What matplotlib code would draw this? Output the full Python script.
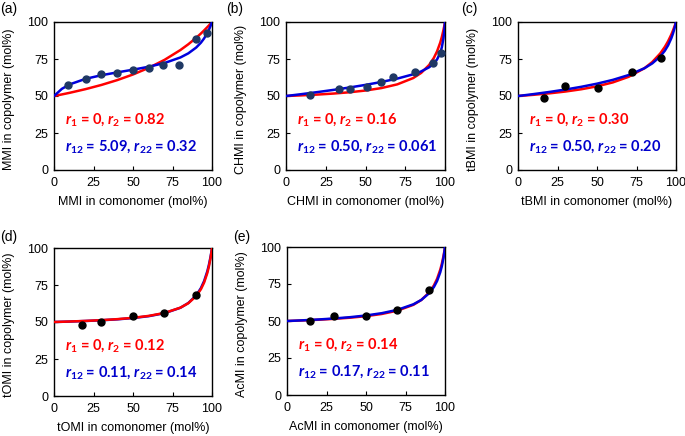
import matplotlib
matplotlib.use('Agg')
import matplotlib.pyplot as plt

plt.rcParams['font.family'] = ['Liberation Sans', 'DejaVu Sans']
plt.rcParams['mathtext.fontset'] = 'custom'
plt.rcParams['mathtext.it'] = 'Lato:italic:bold'
plt.rcParams['mathtext.bf'] = 'Lato:bold'
plt.rcParams['mathtext.rm'] = 'Lato:bold'

# ---- shared x grid for model curves (maleimide in comonomer, mol%) ----
feed = [0, 5, 10, 20, 30, 40, 50, 60, 70, 80, 85, 90, 93, 95, 97, 98, 99, 99.5, 100]

# ---- (a) MMI ----
mmi_terminal = [50, 51.06, 52.18, 54.65, 57.47, 60.73, 64.54, 69.04, 74.45, 81.06, 84.95,
                89.34, 92.24, 94.31, 96.49, 97.63, 98.80, 99.39, 100]
mmi_penult = [50, 54.85, 57.88, 61.61, 64.03, 65.95, 67.78, 69.78, 72.31, 76.04, 78.81,
              82.75, 86.06, 88.90, 92.47, 94.63, 97.11, 98.50, 100]
mmi_x = [9, 20, 30, 40, 50, 60, 69, 79, 90, 97]
mmi_y = [57.2, 61.5, 65.1, 65.8, 67.8, 69.1, 70.9, 70.9, 88.7, 92.8]

# ---- (b) CHMI ----
chmi_terminal = [50, 50.21, 50.44, 50.98, 51.66, 52.53, 53.70, 55.36, 57.87, 62.12, 65.60,
                 70.93, 75.76, 80.16, 86.06, 89.84, 94.39, 97.04, 100]
chmi_penult = [50, 50.63, 51.29, 52.67, 54.15, 55.76, 57.51, 59.48, 61.76, 64.66, 66.61,
               69.39, 72.02, 74.71, 79.16, 82.86, 88.76, 93.34, 100]
chmi_x = [15.4, 33.1, 40.3, 50.8, 59.7, 67.1, 81.0, 92.2, 97.7]
chmi_y = [50.7, 54.7, 54.7, 56.3, 59.7, 63.1, 66.4, 72.1, 79.1]

# ---- (c) tBMI ----
tbmi_terminal = [50, 50.39, 50.82, 51.81, 53.02, 54.55, 56.52, 59.18, 62.96, 68.75, 72.97,
                 78.72, 83.29, 87.01, 91.45, 94.01, 96.85, 98.38, 100]
tbmi_penult = [50, 50.64, 51.31, 52.76, 54.37, 56.20, 58.33, 60.89, 64.15, 68.75, 72.04,
               76.69, 80.69, 84.23, 88.93, 91.92, 95.53, 97.64, 100]
tbmi_x = [16.2, 29.7, 50.4, 72.2, 90.5]
tbmi_y = [48.9, 57.0, 55.6, 66.2, 75.9]

# ---- (d) tOMI ----
tomi_terminal = [50, 50.16, 50.33, 50.74, 51.25, 51.92, 52.83, 54.13, 56.14, 59.68, 62.69,
                 67.53, 72.18, 76.64, 82.99, 87.31, 92.80, 96.14, 100]
tomi_penult = [50, 50.14, 50.30, 50.68, 51.17, 51.80, 52.67, 53.95, 55.97, 59.62, 62.81,
               67.99, 72.96, 77.66, 84.16, 88.41, 93.59, 96.62, 100]
tomi_x = [17.9, 30.0, 49.8, 69.6, 89.7]
tomi_y = [47.7, 50.0, 53.8, 56.1, 68.1]

# ---- (e) AcMI ----
acmi_terminal = [50, 50.18, 50.39, 50.86, 51.46, 52.23, 53.27, 54.75, 57.02, 60.94, 64.20,
                 69.33, 74.09, 78.54, 84.68, 88.71, 93.69, 96.65, 100]
acmi_penult = [50, 50.22, 50.46, 51.03, 51.72, 52.59, 53.73, 55.29, 57.57, 61.28, 64.24,
               68.78, 73.02, 77.06, 82.92, 87.02, 92.44, 95.87, 100]
acmi_x = [14.8, 29.9, 49.8, 69.7, 90.0]
acmi_y = [49.9, 53.3, 53.7, 57.6, 71.1]

names = ['MMI', 'CHMI', 'tBMI', 'tOMI', 'AcMI']
panel_tags = ['(a)', '(b)', '(c)', '(d)', '(e)']
terminal_r2 = ['0.82', '0.16', '0.30', '0.12', '0.14']
penult_r12 = ['5.09', '0.50', '0.50', '0.11', '0.17']
penult_r22 = ['0.32', '0.061', '0.20', '0.14', '0.11']
terminals = [mmi_terminal, chmi_terminal, tbmi_terminal, tomi_terminal, acmi_terminal]
penults = [mmi_penult, chmi_penult, tbmi_penult, tomi_penult, acmi_penult]
pts_x = [mmi_x, chmi_x, tbmi_x, tomi_x, acmi_x]
pts_y = [mmi_y, chmi_y, tbmi_y, tomi_y, acmi_y]
pt_colors = ['#1F3864', '#1F3864', 'black', 'black', 'black']

RED = '#FF0000'
BLUE = '#0000DD'
TXT_BLUE = '#0000CC'

W, H = 685, 436
fig = plt.figure(figsize=(W / 100, H / 100), dpi=100)

# pixel boxes: left, top, right, bottom
boxes = [(54, 22, 212, 170), (286, 22, 445, 170), (518, 22, 676, 170),
         (54, 248, 212, 396), (287, 247, 445, 395)]
tag_pos = [(0, 9), (226, 9), (461, 9), (0, 237), (233, 237)]

for i in range(5):
    l, t, r, b = boxes[i]
    ax = fig.add_axes([l / W, 1 - b / H, (r - l) / W, (b - t) / H])
    if i == 3:
        ax.plot(feed, penults[i], color=BLUE, lw=1.8, zorder=2)
        ax.plot(feed, terminals[i], color=RED, lw=1.8, zorder=3)
    else:
        ax.plot(feed, terminals[i], color=RED, lw=1.8, zorder=2)
        ax.plot(feed, penults[i], color=BLUE, lw=1.8, zorder=3)
    ax.plot(pts_x[i], pts_y[i], 'o', color=pt_colors[i], ms=5, zorder=4)
    ax.set_xlim(0, 100)
    ax.set_ylim(0, 100)
    ax.set_xticks([0, 25, 50, 75, 100])
    ax.set_yticks([0, 25, 50, 75, 100])
    ax.tick_params(direction='in', length=3, width=0.8, labelsize=9, colors='black')
    ax.tick_params(axis='x', pad=5)
    ax.tick_params(axis='y', pad=4)
    for s in ax.spines.values():
        s.set_linewidth(1.0)
    ax.text(0.5, -0.215, f'{names[i]} in comonomer (mol%)', transform=ax.transAxes,
            ha='center', va='center', fontsize=9)
    ax.text(-0.285, 0.48, f'{names[i]} in copolymer (mol%)', transform=ax.transAxes,
            ha='center', va='center', rotation=90, fontsize=9)
    ax.text(7, 34, r'$\mathit{r}_{\mathbf{1}}$ = 0, $\mathit{r}_{\mathbf{2}}$ = ' + terminal_r2[i],
            color=RED, fontsize=10.5, fontweight='bold', family='Lato', va='center', ha='left')
    ax.text(7, 16, r'$\mathit{r}_{\mathbf{12}}$ = ' + penult_r12[i] + r', $\mathit{r}_{\mathbf{22}}$ = ' + penult_r22[i],
            color=TXT_BLUE, fontsize=10.5, fontweight='bold', family='Lato', va='center', ha='left')
    tx, ty = tag_pos[i]
    fig.text(tx / W, 1 - ty / H, panel_tags[i], ha='left', va='center', fontsize=10)

fig.savefig('out.png', dpi=100)
